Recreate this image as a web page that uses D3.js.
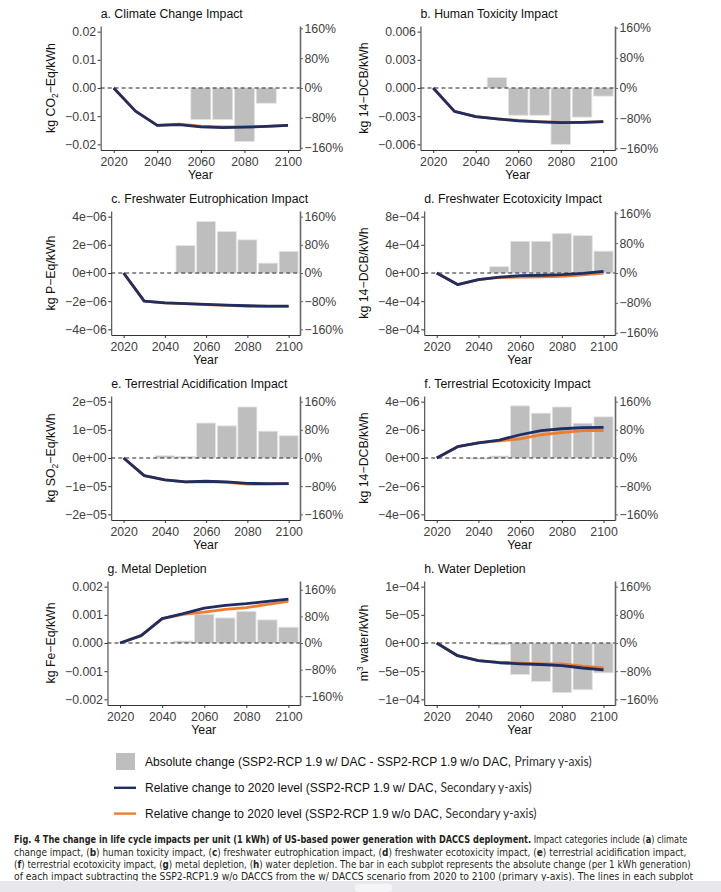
<!DOCTYPE html>
<html>
<head>
<meta charset="utf-8">
<script src="https://cdn.jsdelivr.net/npm/d3@7"></script>
<style>
  body { margin: 0; background: #fff; }
  svg { display: block; font-family: "Liberation Sans", Arial, sans-serif; }
</style>
</head>
<body>
<svg id="chart" width="721" height="892"></svg>
<script>
const years = [2020, 2030, 2040, 2050, 2060, 2070, 2080, 2090, 2100];
const xTicks = [2020, 2040, 2060, 2080, 2100];
const pctTicks = [160, 80, 0, -80, -160];
const pctLabels = ["160%", "80%", "0%", "−80%", "−160%"];

// a. climate change
const absA = [0, 0, 0, 0, -0.0112, -0.0112, -0.019, -0.0054, 0];
const dacA = [0, -62, -100, -98, -104, -106, -105, -103, -100];
const noDacA = [0, -62, -100, -97, -102, -104, -104, -103, -100];
const ticksA = [0.02, 0.01, 0, -0.01, -0.02];
const labelsA = ["0.02", "0.01", "0.00", "−0.01", "−0.02"];

// b. human toxicity
const absB = [0, 0, 0, 0.0011, -0.0029, -0.0029, -0.006, -0.0031, -0.00086];
const dacB = [0, -62, -76, -82, -87, -90, -92, -91, -89];
const noDacB = [0, -62, -76, -82, -86, -89, -91, -91, -89];
const ticksB = [0.006, 0.003, 0, -0.003, -0.006];
const labelsB = ["0.006", "0.003", "0.000", "−0.003", "−0.006"];

// c. freshwater eutrophication
const absC = [0, 0, 0, 1.95e-6, 3.65e-6, 2.94e-6, 2.35e-6, 0.7e-6, 1.53e-6];
const dacC = [0, -80, -85, -87, -89, -91, -93, -94, -94];
const noDacC = [0, -80, -85, -87, -90, -92, -94, -95, -95];
const ticksC = [4e-6, 2e-6, 0, -2e-6, -4e-6];
const labelsC = ["4e−06", "2e−06", "0e+00", "−2e−06", "−4e−06"];

// d. freshwater ecotoxicity
const absD = [0, 0, 0, 0.9e-4, 4.5e-4, 4.5e-4, 5.6e-4, 5.3e-4, 3.1e-4];
const dacD = [0, -31, -18, -11, -7, -6, -4.5, -1, 4.5];
const noDacD = [0, -31, -18, -12, -11, -10, -9, -5, 0];
const ticksD = [8e-4, 4e-4, 0, -4e-4, -8e-4];
const labelsD = ["8e−04", "4e−04", "0e+00", "−4e−04", "−8e−04"];

// e. terrestrial acidification
const absE = [0, 0, 0.8e-6, 0.6e-6, 1.24e-5, 1.14e-5, 1.81e-5, 0.95e-5, 0.79e-5];
const dacE = [0, -50, -62, -68, -66, -68, -72, -73, -73];
const noDacE = [0, -50, -62, -68, -67, -69, -74, -74, -73];
const ticksE = [2e-5, 1e-5, 0, -1e-5, -2e-5];
const labelsE = ["2e−05", "1e−05", "0e+00", "−1e−05", "−2e−05"];

// f. terrestrial ecotoxicity
const absF = [0, 0, -0.07e-6, 0.14e-6, 3.7e-6, 3.18e-6, 3.62e-6, 2.47e-6, 2.92e-6];
const dacF = [0, 32, 43, 51, 66, 78, 83, 86, 87];
const noDacF = [0, 32, 43, 49, 54, 66, 72, 78, 78];
const ticksF = [4e-6, 2e-6, 0, -2e-6, -4e-6];
const labelsF = ["4e−06", "2e−06", "0e+00", "−2e−06", "−4e−06"];

// g. metal depletion
const absG = [0, 0, 0, 0.00007, 0.00102, 0.00089, 0.00112, 0.00082, 0.00056];
const dacG = [0, 22, 73, 88, 105, 113, 118, 125, 132];
const noDacG = [0, 22, 73, 86, 93, 101, 106, 116, 125];
const ticksG = [0.002, 0.001, 0, -0.001, -0.002];
const labelsG = ["0.002", "0.001", "0.000", "−0.001", "−0.002"];

// h. water depletion
const absH = [0, 0, 0, -0.3e-5, -5.6e-5, -6.8e-5, -8.8e-5, -8.3e-5, -5.3e-5];
const dacH = [0, -36, -50, -56, -59, -61, -64, -71, -76];
const noDacH = [0, -36, -50, -55, -57, -59, -59, -66, -71];
const ticksH = [1e-4, 5e-5, 0, -5e-5, -1e-4];
const labelsH = ["1e−04", "5e−05", "0e+00", "−5e−05", "−1e−04"];

// y titles: [text, shift] pieces, shift -1 = subscript, 1 = superscript
const panels = [
  { title: "a. Climate Change Impact", ylab: [["kg CO", 0], ["2", -1], ["−Eq/kWh", 0]], abs: absA, dac: dacA, noDac: noDacA, ticks: ticksA, labels: labelsA, k: 1.06 },
  { title: "b. Human Toxicity Impact", ylab: [["kg 14−DCB/kWh", 0]], abs: absB, dac: dacB, noDac: noDacB, ticks: ticksB, labels: labelsB, k: 1.07 },
  { title: "c. Freshwater Eutrophication Impact", ylab: [["kg P−Eq/kWh", 0]], abs: absC, dac: dacC, noDac: noDacC, ticks: ticksC, labels: labelsC, k: 1 },
  { title: "d. Freshwater Ecotoxicity Impact", ylab: [["kg 14−DCB/kWh", 0]], abs: absD, dac: dacD, noDac: noDacD, ticks: ticksD, labels: labelsD, k: 1.06 },
  { title: "e. Terrestrial Acidification Impact", ylab: [["kg SO", 0], ["2", -1], ["−Eq/kWh", 0]], abs: absE, dac: dacE, noDac: noDacE, ticks: ticksE, labels: labelsE, k: 1 },
  { title: "f. Terrestrial Ecotoxicity Impact", ylab: [["kg 14−DCB/kWh", 0]], abs: absF, dac: dacF, noDac: noDacF, ticks: ticksF, labels: labelsF, k: 1 },
  { title: "g. Metal Depletion", ylab: [["kg Fe−Eq/kWh", 0]], abs: absG, dac: dacG, noDac: noDacG, ticks: ticksG, labels: labelsG, k: 0.945 },
  { title: "h. Water Depletion", ylab: [["m", 0], ["3", 1], [" water/kWh", 0]], abs: absH, dac: dacH, noDac: noDacH, ticks: ticksH, labels: labelsH, k: 1 }
];

const navy = "#1e2d62";
const orange = "#ef7d2d";
const barFill = "#bebebe";
const tickSize = 12.3;

const svg = d3.select("#chart");

let probe = svg.append("text").attr("font-size", tickSize).attr("visibility", "hidden");
function textWidth(s) {
  probe.text(s);
  return probe.node().getComputedTextLength();
}

function styleAxis(g, color) {
  g.selectAll("text").attr("font-size", tickSize).attr("font-family", "Liberation Sans, Arial, sans-serif").attr("fill", "#404040");
  g.selectAll("line").attr("stroke", color);
  g.select(".domain").attr("stroke", color);
}

panels.forEach((p, i) => {
  let col = i % 2, row = Math.floor(i / 2);
  let top = 26 + row * 185, bottom = top + 124;
  let right = col ? 615 : 300;
  let base = col ? 378 : 65;
  let maxW = d3.max(p.labels, textWidth);
  let left = base + maxW + 4.5;
  let tMax = p.ticks[0];

  let x = d3.scaleLinear().domain([2014, 2105.5]).range([left, right]);
  let y = d3.scaleLinear().domain([-1.1 * tMax, 1.1 * tMax]).range([bottom, top]);
  let y2 = d3.scaleLinear().domain([-1.1 * 160 / p.k, 1.1 * 160 / p.k]).range([bottom, top]);

  let g = svg.append("g");

  g.selectAll("rect.bar")
    .data(years.map((yr, j) => ({ yr: yr, v: p.abs[j] })).filter(d => d.v !== 0))
    .enter()
    .append("rect")
    .attr("class", "bar")
    .attr("x", d => x(d.yr - 4.6))
    .attr("width", d => x(d.yr + 4.6) - x(d.yr - 4.6))
    .attr("y", d => y(Math.max(0, d.v)))
    .attr("height", d => Math.abs(y(d.v) - y(0)))
    .attr("fill", barFill)
    .attr("stroke", "#e4e4e4")
    .attr("stroke-width", 0.8);

  g.append("line")
    .attr("x1", left).attr("x2", right)
    .attr("y1", y(0)).attr("y2", y(0))
    .attr("stroke", "#222")
    .attr("stroke-width", 1)
    .attr("stroke-dasharray", "4,3");

  let line = d3.line().x((d, j) => x(years[j])).y(d => y2(d));
  g.append("path").attr("d", line(p.noDac)).attr("fill", "none")
    .attr("stroke", orange).attr("stroke-width", 2.8).attr("stroke-linejoin", "round");
  g.append("path").attr("d", line(p.dac)).attr("fill", "none")
    .attr("stroke", navy).attr("stroke-width", 2.8).attr("stroke-linejoin", "round");

  let gy = g.append("g").attr("transform", `translate(${left},0)`)
    .call(d3.axisLeft(y).tickValues(p.ticks).tickFormat((d, j) => p.labels[j]).tickSize(3).tickSizeOuter(0).tickPadding(1.5));
  styleAxis(gy, "#333");

  let gy2 = g.append("g").attr("transform", `translate(${right},0)`)
    .call(d3.axisRight(y2).tickValues(pctTicks).tickFormat((d, j) => pctLabels[j]).tickSize(3).tickSizeOuter(0).tickPadding(1.5));
  styleAxis(gy2, "#666");
  gy2.select(".domain").attr("stroke-width", 1.6);

  let gx = g.append("g").attr("transform", `translate(0,${bottom})`)
    .call(d3.axisBottom(x).tickValues(xTicks).tickFormat(d3.format("d")).tickSize(3).tickSizeOuter(0).tickPadding(4));
  styleAxis(gx, "#333");

  g.append("text")
    .attr("x", left).attr("y", top - 8.5)
    .attr("font-size", 12.3).attr("fill", "#111")
    .text(p.title);

  g.append("text")
    .attr("x", (left + right) / 2).attr("y", bottom + 29)
    .attr("text-anchor", "middle")
    .attr("font-size", 12.3).attr("fill", "#111")
    .text("Year");

  let yt = g.append("text")
    .attr("transform", `translate(${base - 10.5},${(top + bottom) / 2}) rotate(-90)`)
    .attr("text-anchor", "middle")
    .attr("font-size", 12.3).attr("fill", "#111");
  let shift = 0;
  p.ylab.forEach(piece => {
    let target = piece[1] === -1 ? 3 : piece[1] === 1 ? -5 : 0;
    yt.append("tspan")
      .attr("dy", target - shift)
      .attr("font-size", piece[1] === 0 ? 12.3 : 8.5)
      .text(piece[0]);
    shift = target;
  });
});

probe.remove();

// legend
const legendRows = [
  { key: "bar", main: "Absolute change (SSP2-RCP 1.9 w/ DAC -  SSP2-RCP 1.9 w/o DAC, ", tail: "Primary y-axis)", end: 592 },
  { key: navy, main: "Relative change to 2020 level (SSP2-RCP 1.9 w/ DAC, ", tail: "Secondary y-axis)", end: 532 },
  { key: orange, main: "Relative change to 2020 level (SSP2-RCP 1.9 w/o DAC, ", tail: "Secondary y-axis)", end: 537 }
];

legendRows.forEach((r, i) => {
  let cy = 762 + i * 25.8;
  if (r.key === "bar") {
    svg.append("rect").attr("x", 116).attr("y", cy - 9).attr("width", 19).attr("height", 17).attr("fill", barFill);
  } else {
    svg.append("line").attr("x1", 114).attr("x2", 136).attr("y1", cy).attr("y2", cy)
      .attr("stroke", r.key).attr("stroke-width", 2.4);
  }
  let t = svg.append("text").attr("y", cy + 4.5).attr("font-size", 12.5).attr("fill", "#111");
  t.append("tspan").text(r.main);
  t.append("tspan").attr("font-family", "Lato, sans-serif").attr("fill", "#333").text(r.tail);
  let w = t.node().getComputedTextLength();
  t.attr("transform", `translate(145,0) scale(${(r.end - 145) / w},1)`);
});

// caption
const captionLines = [
  [["Fig. 4 The change in life cycle impacts per unit (1 kWh) of US-based power generation with DACCS deployment.", 1], [" Impact categories include (", 0], ["a", 1], [") climate", 0]],
  [["change impact, (", 0], ["b", 1], [") human toxicity impact, (", 0], ["c", 1], [") freshwater eutrophication impact, (", 0], ["d", 1], [") freshwater ecotoxicity impact, (", 0], ["e", 1], [") terrestrial acidification impact,", 0]],
  [["(", 0], ["f", 1], [") terrestrial ecotoxicity impact, (", 0], ["g", 1], [") metal depletion, (", 0], ["h", 1], [") water depletion. The bar in each subplot represents the absolute change (per 1 kWh generation)", 0]],
  [["of each impact subtracting the SSP2-RCP1.9 w/o DACCS from the w/ DACCS scenario from 2020 to 2100 (primary y-axis). The lines in each subplot", 0]]
];
const captionEnds = [688, 687, 691, 693];

captionLines.forEach((segs, i) => {
  let t = svg.append("text")
    .attr("y", 843.5 + i * 12.3)
    .attr("font-family", "'Liberation Sans Narrow', 'DejaVu Sans Condensed', 'Liberation Sans', sans-serif")
    .attr("font-size", 10.6)
    .attr("fill", "#231f20");
  segs.forEach(s => t.append("tspan").attr("font-weight", s[1] ? "bold" : "normal").text(s[0]));
  let w = t.node().getComputedTextLength();
  t.attr("transform", `translate(14,0) scale(${(captionEnds[i] - 14) / w},1)`);
});

// bottom strip of the page viewer
svg.append("rect").attr("x", 0).attr("y", 881).attr("width", 721).attr("height", 11).attr("fill", "#e8e8ec");
svg.append("rect").attr("x", 355).attr("y", 884).attr("width", 37).attr("height", 8).attr("rx", 3).attr("fill", "#f5f5f7");
</script>
</body>
</html>
